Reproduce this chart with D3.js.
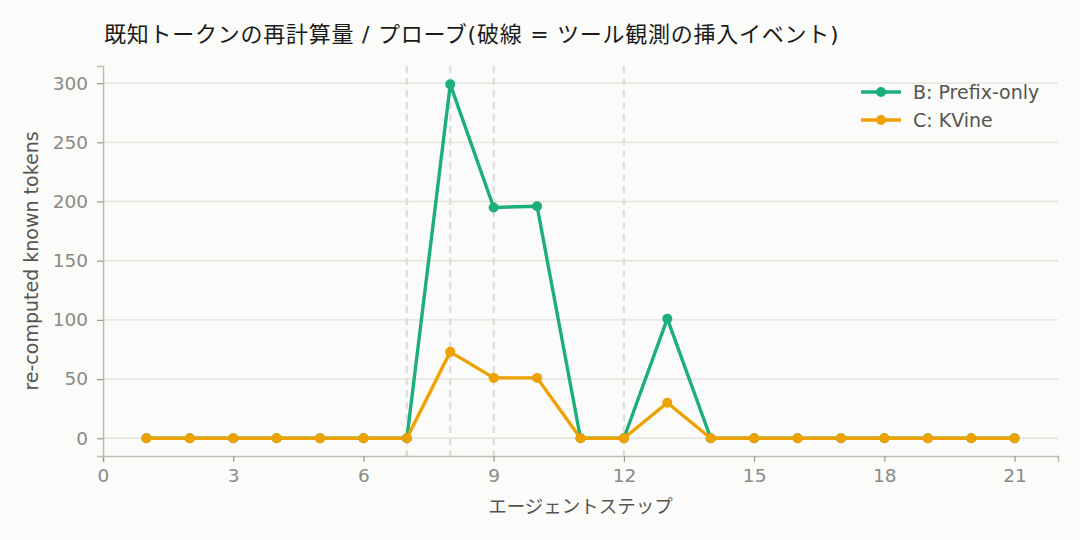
<!DOCTYPE html>
<html>
<head>
<meta charset="utf-8">
<script src="https://cdn.jsdelivr.net/npm/d3@7"></script>
<style>
  body { margin: 0; background: #fbfbf9; }
  svg { display: block; font-family: "DejaVu Sans", "Noto Sans CJK JP", sans-serif; }
</style>
</head>
<body>
<svg id="chart" width="1080" height="540"></svg>
<script>
// data
const steps = d3.range(1, 22);
const prefixOnly = [0, 0, 0, 0, 0, 0, 0, 299, 195, 196, 0, 0, 101, 0, 0, 0, 0, 0, 0, 0, 0];
const kvine = [0, 0, 0, 0, 0, 0, 0, 73, 51, 51, 0, 0, 30, 0, 0, 0, 0, 0, 0, 0, 0];
const toolEvents = [7, 8, 9, 12];
const xTicks = [0, 3, 6, 9, 12, 15, 18, 21];
const yTicks = [0, 50, 100, 150, 200, 250, 300];

const series = [
  { name: "B: Prefix-only", color: "#1daf7b", values: prefixOnly },
  { name: "C: KVine", color: "#efa102", values: kvine }
];

const margin = { top: 66, right: 22, bottom: 84, left: 103 };
const W = 1080, H = 540;

const svg = d3.select("#chart");

const x = d3.scaleLinear().domain([0, 22]).range([margin.left, W - margin.right]);
const y = d3.scaleLinear().domain([-15, 314.5]).range([H - margin.bottom, margin.top]);

// grid
svg.append("g")
  .selectAll("line")
  .data(yTicks)
  .join("line")
  .attr("x1", margin.left)
  .attr("x2", W - margin.right)
  .attr("y1", d => y(d))
  .attr("y2", d => y(d))
  .attr("stroke", "#e2e2dc")
  .attr("stroke-width", 1.4);

// tool insert events
svg.append("g")
  .selectAll("line")
  .data(toolEvents)
  .join("line")
  .attr("x1", d => x(d))
  .attr("x2", d => x(d))
  .attr("y1", margin.top)
  .attr("y2", H - margin.bottom)
  .attr("stroke", "#dfdfd9")
  .attr("stroke-width", 2.4)
  .attr("stroke-dasharray", "7,5");

// axes
const xAxis = g => g
  .attr("transform", `translate(0,${H - margin.bottom})`)
  .call(d3.axisBottom(x).tickValues(xTicks).tickSize(6).tickPadding(7))
  .call(g => g.select(".domain").attr("stroke", "#bdbdb5").attr("stroke-width", 1.5));

const yAxis = g => g
  .attr("transform", `translate(${margin.left},0)`)
  .call(d3.axisLeft(y).tickValues(yTicks).tickSize(6).tickPadding(9))
  .call(g => g.select(".domain").attr("stroke", "#bdbdb5").attr("stroke-width", 1.5));

svg.append("g").call(xAxis);
svg.append("g").call(yAxis);

svg.selectAll(".tick line").attr("stroke", "#9a9a94").attr("stroke-width", 1.2);
svg.selectAll(".tick text")
  .attr("fill", "#8a8a86")
  .style("font-family", "DejaVu Sans, sans-serif")
  .style("font-size", "18.5px");

// lines
const line = d3.line()
  .x((d, i) => x(steps[i]))
  .y(d => y(d));

series.forEach(s => {
  svg.append("path")
    .datum(s.values)
    .attr("fill", "none")
    .attr("stroke", s.color)
    .attr("stroke-width", 3.4)
    .attr("stroke-linejoin", "round")
    .attr("d", line);

  svg.append("g")
    .selectAll("circle")
    .data(s.values)
    .join("circle")
    .attr("cx", (d, i) => x(steps[i]))
    .attr("cy", d => y(d))
    .attr("r", 5)
    .attr("fill", s.color);
});

// legend
const legend = svg.append("g")
  .selectAll("g")
  .data(series)
  .join("g")
  .attr("transform", (d, i) => `translate(861,${92 + i * 28})`);

legend.append("line")
  .attr("x1", 0).attr("x2", 40)
  .attr("stroke", d => d.color)
  .attr("stroke-width", 3.4);

legend.append("circle")
  .attr("cx", 20).attr("r", 5)
  .attr("fill", d => d.color);

legend.append("text")
  .attr("x", 52)
  .attr("dy", "0.36em")
  .attr("fill", "#555552")
  .style("font-size", "19px")
  .text(d => d.name);

// labels
svg.append("text")
  .attr("x", 104)
  .attr("y", 42)
  .attr("fill", "#1a1a1a")
  .style("font-size", "22px")
  .style("letter-spacing", "0.75px")
  .text("既知トークンの再計算量 / プローブ(破線 = ツール観測の挿入イベント)");

svg.append("text")
  .attr("x", (margin.left + W - margin.right) / 2)
  .attr("y", 513)
  .attr("text-anchor", "middle")
  .attr("fill", "#555552")
  .style("font-size", "18.5px")
  .text("エージェントステップ");

svg.append("text")
  .attr("transform", `translate(38,${(margin.top + H - margin.bottom) / 2}) rotate(-90)`)
  .attr("text-anchor", "middle")
  .attr("fill", "#555552")
  .style("font-size", "19px")
  .text("re-computed known tokens");
</script>
</body>
</html>
